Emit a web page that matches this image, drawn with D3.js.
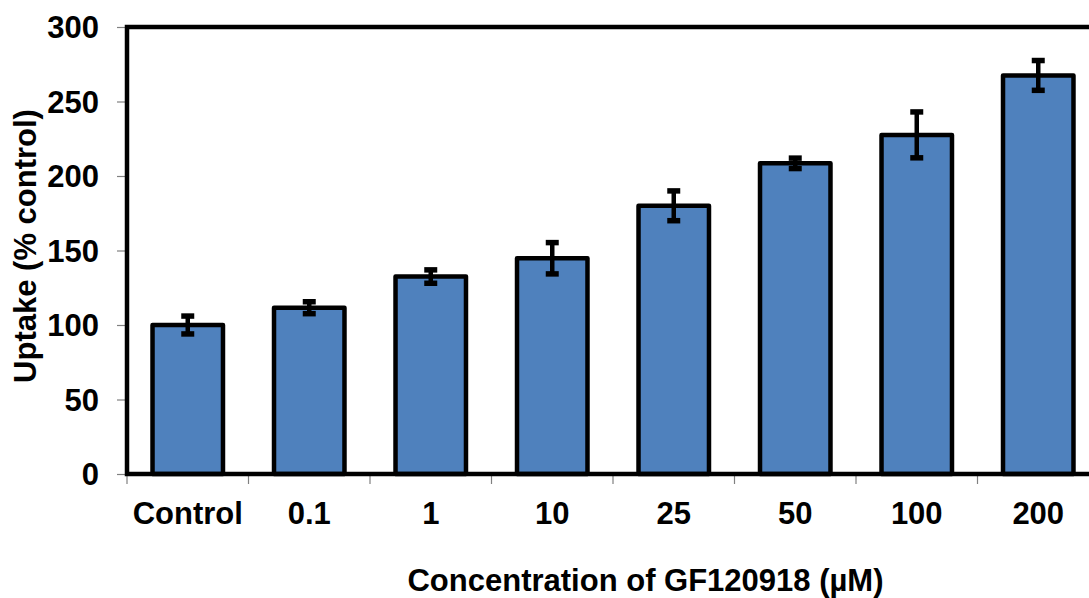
<!DOCTYPE html>
<html>
<head>
<meta charset="utf-8">
<script src="https://cdn.jsdelivr.net/npm/d3@7"></script>
<style>
  html, body { margin: 0; padding: 0; background: #fff; overflow: hidden; }
  svg { display: block; }
  text { font-family: "Liberation Sans", Arial, sans-serif; font-weight: bold; fill: #000; }
</style>
</head>
<body>
<svg id="chart" width="1089" height="598"></svg>
<script>
const categories = ["Control", "0.1", "1", "10", "25", "50", "100", "200"];
const uptake = [100, 111.6, 132.5, 144.8, 180, 208.5, 227.6, 267.5];
const errors = [6, 4, 4.5, 10.5, 10, 3.5, 15.4, 10];
const yTicks = [0, 50, 100, 150, 200, 250, 300];
const xTitle = "Concentration of GF120918 (µM)";
const yTitle = "Uptake (% control)";

const svg = d3.select("#chart");
const plotLeft = 127, plotRight = 1099, plotTop = 27, plotBottom = 474;
const fs = "31px";

const x = d3.scaleBand().domain(categories).range([plotLeft, plotRight]).paddingInner(0.42).paddingOuter(0.21);
const xb = d3.scaleBand().domain(categories).range([plotLeft, plotRight]);
const y = d3.scaleLinear().domain([0, 300]).range([plotBottom, plotTop]);

// y ticks
const yAxis = svg.append("g").attr("transform", `translate(${plotLeft},0)`)
  .call(d3.axisLeft(y).tickValues(yTicks).tickSize(10).tickPadding(18).tickFormat(d3.format("d")));
yAxis.select(".domain").remove();
yAxis.selectAll(".tick line").attr("stroke", "#808080").attr("stroke-width", 1.2);
yAxis.selectAll(".tick text").style("font-size", fs).attr("dy", "0.35em");

// x ticks at band boundaries
const bounds = categories.map(c => xb(c)).concat([plotRight]);
svg.append("g").selectAll("line").data(bounds).join("line")
  .attr("x1", d => d).attr("x2", d => d)
  .attr("y1", plotBottom).attr("y2", plotBottom + 10)
  .attr("stroke", "#808080").attr("stroke-width", 1.2);

// x labels
svg.append("g").selectAll("text").data(categories).join("text")
  .attr("x", d => xb(d) + xb.bandwidth() / 2)
  .attr("y", 524)
  .attr("text-anchor", "middle")
  .style("font-size", fs)
  .text(d => d);

// bars
svg.append("g").selectAll("rect").data(categories).join("rect")
  .attr("x", d => x(d))
  .attr("width", x.bandwidth())
  .attr("y", (d, i) => y(uptake[i]))
  .attr("height", (d, i) => y(0) - y(uptake[i]))
  .attr("fill", "#4F81BD")
  .attr("stroke", "#000")
  .attr("stroke-width", 4.5)
  .attr("stroke-linejoin", "round");

// error bars
const eb = svg.append("g").selectAll("g").data(categories).join("g");
eb.append("line")
  .attr("x1", d => x(d) + x.bandwidth() / 2)
  .attr("x2", d => x(d) + x.bandwidth() / 2)
  .attr("y1", (d, i) => y(uptake[i] + errors[i]))
  .attr("y2", (d, i) => y(uptake[i] - errors[i]))
  .attr("stroke", "#000").attr("stroke-width", 4.5);
[1, -1].forEach(s => {
  eb.append("line")
    .attr("x1", d => x(d) + x.bandwidth() / 2 - 6.5)
    .attr("x2", d => x(d) + x.bandwidth() / 2 + 6.5)
    .attr("y1", (d, i) => y(uptake[i] + s * errors[i]))
    .attr("y2", (d, i) => y(uptake[i] + s * errors[i]))
    .attr("stroke", "#000").attr("stroke-width", 5.5);
});

// frame
svg.append("path")
  .attr("d", `M${plotLeft},${plotBottom}L${plotLeft},${plotTop}L${plotRight},${plotTop}L${plotRight},${plotBottom}Z`)
  .attr("fill", "none").attr("stroke", "#000")
  .attr("stroke-width", 4.5).attr("stroke-linejoin", "miter");

// titles
svg.append("text")
  .attr("x", 645.5).attr("y", 591)
  .attr("text-anchor", "middle")
  .style("font-size", fs)
  .text(xTitle);

svg.append("text")
  .attr("transform", "translate(36,246) rotate(-90)")
  .attr("text-anchor", "middle")
  .style("font-size", fs)
  .text(yTitle);
</script>
</body>
</html>
